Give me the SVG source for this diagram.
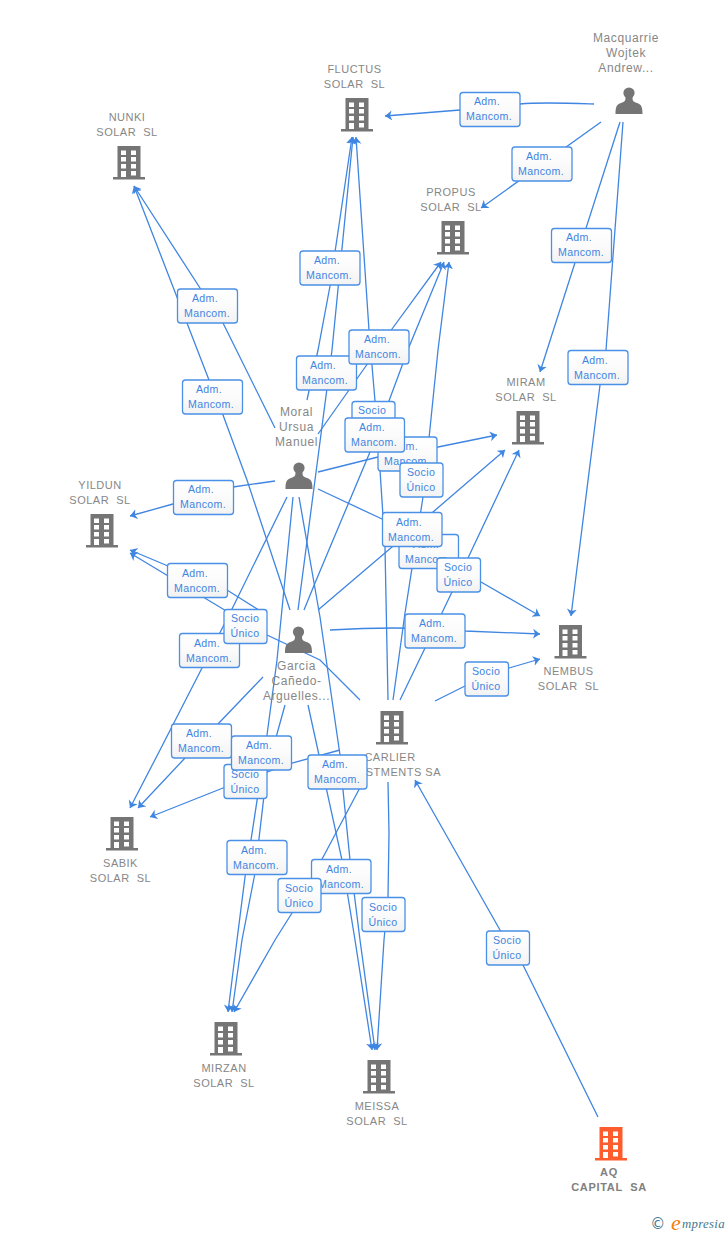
<svg xmlns="http://www.w3.org/2000/svg" xmlns:xlink="http://www.w3.org/1999/xlink" width="728" height="1235" viewBox="0 0 728 1235">
<style>
.e{fill:none;stroke:#3f85e2;stroke-width:1.3;marker-end:url(#a)}
.b{fill:url(#g);stroke:#4a90e6;stroke-width:1.3}
.l{font:10.6px "Liberation Sans",Arial,sans-serif;fill:#3f85e2;text-anchor:middle;letter-spacing:.35px}
.t{font:11px "Liberation Sans",Arial,sans-serif;fill:#878787;text-anchor:middle;letter-spacing:.5px;white-space:pre}
.p{font-size:12px;letter-spacing:.6px}
.s{font-weight:bold;fill:#808080;letter-spacing:.7px}
</style>
<defs>
<linearGradient id="g" x1="0" y1="0" x2="0" y2="1"><stop offset="0" stop-color="#fff"/><stop offset=".5" stop-color="#fbfbfb"/><stop offset="1" stop-color="#f2f2f2"/></linearGradient>
<marker id="a" markerUnits="userSpaceOnUse" markerWidth="10" markerHeight="12" refX="7" refY="5" orient="auto"><path d="M7,5 L0,0 L2,5 L0,10Z" fill="#3f85e2"/></marker>
<g id="bld">
<path fill-rule="evenodd" d="M-11.5,-17H11.5V14H16V16.5H-16V14H-11.5ZM-8,-12.5V-8H-3V-12.5ZM2,-12.5V-8H7V-12.5ZM-8,-6V-1.500H-3V-6ZM2,-6V-1.500H7V-6ZM-8,1V5.500H-3V1ZM2,1V5.500H7V1ZM-8,8V14H-3V8ZM2,8V12.500H7V8Z"/>
</g>
<g id="per">
<circle cx="0" cy="-7" r="5.600"/>
<path d="M-3.500,-3 C-3.500,1 -4,1.500 -8,3 C-12,4.500 -13.500,6 -13.500,14 H13.500 C13.500,6 12,4.500 8,3 C4,1.500 3.500,1 3.500,-3Z"/>
</g>
</defs>
<rect width="728" height="1235" fill="#fff"/>
<g id="connectors">
<path class="e" d="M594,104C565,103 540,102 520,104L460,110L385,116"/>
<path class="e" d="M601,122L481,208"/>
<path class="e" d="M620,122L540,372"/>
<path class="e" d="M623,122L606,350L600,385L571,616"/>
<path class="e" d="M275,428L223,323L200,288L134,186"/>
<path class="e" d="M290,610L247,480L223,415L209,380L134,186"/>
<path class="e" d="M307,400L318,350L330,286L335,252L352,137"/>
<path class="e" d="M298,610L332,350L353,137"/>
<path class="e" d="M388,700L385,547L380,470L375,401L369,330L356,137"/>
<path class="e" d="M318,434L392,329L441,262"/>
<path class="e" d="M304,610L315,583L370,452L409,347L444,262"/>
<path class="e" d="M393,700L405,613L423,497L438,350L449,262"/>
<path class="e" d="M318,472L378,457L438,447L497,435"/>
<path class="e" d="M318,610L392,547L433,512L505,450"/>
<path class="e" d="M400,700L452,592L468,558L519,450"/>
<path class="e" d="M318,489L382,519L481,582L540,616"/>
<path class="e" d="M330,630C380,627 420,627 465,631L540,634"/>
<path class="e" d="M435,701L465,686L509,668L540,659"/>
<path class="e" d="M275,481L233,487L173,504L130,516"/>
<path class="e" d="M262,612L227,590L168,566L130,550"/>
<path class="e" d="M360,700L320,660L267,635L223,609L130,553"/>
<path class="e" d="M287,497L232,609L202,668L160,750L130,808"/>
<path class="e" d="M263,677L218,724L185,758L138,808"/>
<path class="e" d="M340,750L292,763L223,788L150,817"/>
<path class="e" d="M293,497L277,660L267,735L251,840L245,877L237,940L228,1012"/>
<path class="e" d="M285,705L267,770L255,873L242,940L232,1012"/>
<path class="e" d="M363,782L312,878L292,913L275,940L234,1012"/>
<path class="e" d="M299,497L320,617L340,755L343,790L350,860L360,940L375,1050"/>
<path class="e" d="M308,705L342,860L355,940L372,1050"/>
<path class="e" d="M388,782L389,833L388,897L384,940L377,1050"/>
<path class="e" d="M598,1117L523,965L500,930L415,780"/>
</g>
<g id="n1" fill="#757575"><use xlink:href="#bld" href="#bld" x="129" y="163"/><text class="t"><tspan x="127" y="121">NUNKI</tspan><tspan x="127" y="136">SOLAR  SL</tspan></text></g>
<g id="n2" fill="#757575"><use xlink:href="#bld" href="#bld" x="357" y="115"/><text class="t"><tspan x="354.500" y="73">FLUCTUS</tspan><tspan x="354.500" y="88">SOLAR  SL</tspan></text></g>
<g id="n3" fill="#757575"><use xlink:href="#bld" href="#bld" x="453" y="238"/><text class="t"><tspan x="451" y="196">PROPUS</tspan><tspan x="451" y="211">SOLAR  SL</tspan></text></g>
<g id="n4" fill="#757575"><use xlink:href="#bld" href="#bld" x="528" y="428"/><text class="t"><tspan x="526" y="386">MIRAM</tspan><tspan x="526" y="401">SOLAR  SL</tspan></text></g>
<g id="n5" fill="#757575"><use xlink:href="#bld" href="#bld" x="102" y="531"/><text class="t"><tspan x="100" y="489">YILDUN</tspan><tspan x="100" y="504">SOLAR  SL</tspan></text></g>
<g id="n6" fill="#757575"><use xlink:href="#bld" href="#bld" x="570.500" y="642"/><text class="t"><tspan x="568.500" y="675">NEMBUS</tspan><tspan x="568.500" y="690">SOLAR  SL</tspan></text></g>
<g id="n7" fill="#757575"><use xlink:href="#bld" href="#bld" x="122" y="834"/><text class="t"><tspan x="120.500" y="867">SABIK</tspan><tspan x="120.500" y="882">SOLAR  SL</tspan></text></g>
<g id="n8" fill="#757575"><use xlink:href="#bld" href="#bld" x="226" y="1039"/><text class="t"><tspan x="224" y="1072">MIRZAN</tspan><tspan x="224" y="1087">SOLAR  SL</tspan></text></g>
<g id="n9" fill="#757575"><use xlink:href="#bld" href="#bld" x="379" y="1077"/><text class="t"><tspan x="377" y="1110">MEISSA</tspan><tspan x="377" y="1125">SOLAR  SL</tspan></text></g>
<g id="n10" fill="#757575"><use xlink:href="#bld" href="#bld" x="392" y="728"/><text class="t"><tspan x="390" y="761">CARLIER</tspan></text><text class="t" style="text-anchor:end" x="441" y="776">STMENTS SA</text></g>
<g id="n11" fill="#ff5c2e"><use xlink:href="#bld" href="#bld" x="611" y="1144"/><text class="t s"><tspan x="609" y="1176">AQ</tspan><tspan x="609" y="1191">CAPITAL  SA</tspan></text></g>
<g id="n12" fill="#757575"><use xlink:href="#per" href="#per" x="629" y="100"/><text class="t p"><tspan x="626" y="42">Macquarrie</tspan><tspan x="626" y="57">Wojtek</tspan><tspan x="626" y="72">Andrew...</tspan></text></g>
<g id="n13" fill="#757575"><use xlink:href="#per" href="#per" x="299" y="475"/><text class="t p"><tspan x="296.500" y="416">Moral</tspan><tspan x="296.500" y="431">Ursua</tspan><tspan x="296.500" y="446">Manuel</tspan></text></g>
<g id="n14" fill="#757575"><use xlink:href="#per" href="#per" x="298.500" y="639"/><text class="t p"><tspan x="296.500" y="670">Garcia</tspan><tspan x="296.500" y="685">Cañedo-</tspan><tspan x="296.500" y="700">Arguelles...</tspan></text></g>
<g id="labels">
<g><rect class="b" x="460" y="92.500" width="60" height="34" rx="3"/><text class="l"><tspan x="487" y="105">Adm.</tspan><tspan x="489" y="120">Mancom.</tspan></text></g>
<g><rect class="b" x="512" y="147" width="60" height="34" rx="3"/><text class="l"><tspan x="539" y="160">Adm.</tspan><tspan x="541" y="175">Mancom.</tspan></text></g>
<g><rect class="b" x="551.500" y="228.500" width="60" height="34" rx="3"/><text class="l"><tspan x="579" y="241">Adm.</tspan><tspan x="581" y="256">Mancom.</tspan></text></g>
<g><rect class="b" x="568" y="350.500" width="60" height="34" rx="3"/><text class="l"><tspan x="595" y="364">Adm.</tspan><tspan x="597" y="379">Mancom.</tspan></text></g>
<g><rect class="b" x="300" y="251" width="60" height="34" rx="3"/><text class="l"><tspan x="327" y="264">Adm.</tspan><tspan x="329" y="279">Mancom.</tspan></text></g>
<g><rect class="b" x="177.500" y="289" width="60" height="34" rx="3"/><text class="l"><tspan x="205" y="302">Adm.</tspan><tspan x="207" y="317">Mancom.</tspan></text></g>
<g><rect class="b" x="182.500" y="380" width="60" height="34" rx="3"/><text class="l"><tspan x="209" y="393">Adm.</tspan><tspan x="211" y="408">Mancom.</tspan></text></g>
<g><rect class="b" x="296.500" y="356" width="60" height="34" rx="3"/><text class="l"><tspan x="323" y="369">Adm.</tspan><tspan x="325" y="384">Mancom.</tspan></text></g>
<g><rect class="b" x="349" y="330" width="60" height="34" rx="3"/><text class="l"><tspan x="377" y="343">Adm.</tspan><tspan x="378" y="358">Mancom.</tspan></text></g>
<g><rect class="b" x="352" y="401.500" width="43" height="34" rx="3"/><text class="l"><tspan x="372" y="414">Socio</tspan><tspan x="372" y="429">Único</tspan></text></g>
<g><rect class="b" x="378" y="437" width="59" height="34" rx="3"/><text class="l"><tspan x="405" y="450">Adm.</tspan><tspan x="407" y="465">Mancom.</tspan></text></g>
<g><rect class="b" x="345" y="418" width="59.500" height="34" rx="3"/><text class="l"><tspan x="372" y="431">Adm.</tspan><tspan x="374" y="446">Mancom.</tspan></text></g>
<g><rect class="b" x="400" y="463" width="43" height="34" rx="3"/><text class="l"><tspan x="421" y="476">Socio</tspan><tspan x="421" y="491">Único</tspan></text></g>
<g><rect class="b" x="399" y="534.500" width="59.500" height="34" rx="3"/><text class="l"><tspan x="426" y="548">Adm.</tspan><tspan x="428" y="563">Mancom.</tspan></text></g>
<g><rect class="b" x="382.500" y="512.500" width="59.500" height="34" rx="3"/><text class="l"><tspan x="409" y="526">Adm.</tspan><tspan x="411" y="541">Mancom.</tspan></text></g>
<g><rect class="b" x="437" y="558" width="43.500" height="34" rx="3"/><text class="l"><tspan x="458" y="571">Socio</tspan><tspan x="458" y="586">Único</tspan></text></g>
<g><rect class="b" x="405" y="614" width="60" height="34" rx="3"/><text class="l"><tspan x="432" y="627">Adm.</tspan><tspan x="434" y="642">Mancom.</tspan></text></g>
<g><rect class="b" x="465" y="662" width="43.500" height="34" rx="3"/><text class="l"><tspan x="486" y="675">Socio</tspan><tspan x="486" y="690">Único</tspan></text></g>
<g><rect class="b" x="173.500" y="480.500" width="60" height="34" rx="3"/><text class="l"><tspan x="201" y="493">Adm.</tspan><tspan x="203" y="508">Mancom.</tspan></text></g>
<g><rect class="b" x="167.500" y="563.500" width="60" height="34" rx="3"/><text class="l"><tspan x="195" y="577">Adm.</tspan><tspan x="197" y="592">Mancom.</tspan></text></g>
<g><rect class="b" x="179.500" y="633.500" width="60" height="34" rx="3"/><text class="l"><tspan x="207" y="647">Adm.</tspan><tspan x="209" y="662">Mancom.</tspan></text></g>
<g><rect class="b" x="224" y="609.500" width="43" height="34" rx="3"/><text class="l"><tspan x="245" y="622">Socio</tspan><tspan x="245" y="637">Único</tspan></text></g>
<g><rect class="b" x="171.500" y="724" width="60" height="34" rx="3"/><text class="l"><tspan x="199" y="737">Adm.</tspan><tspan x="201" y="752">Mancom.</tspan></text></g>
<g><rect class="b" x="224" y="764.500" width="43" height="34" rx="3"/><text class="l"><tspan x="245" y="778">Socio</tspan><tspan x="245" y="793">Único</tspan></text></g>
<g><rect class="b" x="231.500" y="736" width="60" height="34" rx="3"/><text class="l"><tspan x="259" y="749">Adm.</tspan><tspan x="261" y="764">Mancom.</tspan></text></g>
<g><rect class="b" x="308" y="755" width="59" height="34" rx="3"/><text class="l"><tspan x="335" y="768">Adm.</tspan><tspan x="337" y="783">Mancom.</tspan></text></g>
<g><rect class="b" x="227" y="840.500" width="60" height="34" rx="3"/><text class="l"><tspan x="254" y="854">Adm.</tspan><tspan x="256" y="869">Mancom.</tspan></text></g>
<g><rect class="b" x="311.500" y="859.500" width="59.500" height="34" rx="3"/><text class="l"><tspan x="339" y="873">Adm.</tspan><tspan x="341" y="888">Mancom.</tspan></text></g>
<g><rect class="b" x="278" y="878.500" width="43" height="34" rx="3"/><text class="l"><tspan x="299" y="892">Socio</tspan><tspan x="299" y="907">Único</tspan></text></g>
<g><rect class="b" x="362" y="897.500" width="43" height="34" rx="3"/><text class="l"><tspan x="383" y="911">Socio</tspan><tspan x="383" y="926">Único</tspan></text></g>
<g><rect class="b" x="486.500" y="931" width="43" height="34" rx="3"/><text class="l"><tspan x="507" y="944">Socio</tspan><tspan x="507" y="959">Único</tspan></text></g>
</g>
<g id="logo">
<text x="657.700" y="1229" style="font:15px 'DejaVu Sans',sans-serif;text-anchor:middle;fill:#44788f">©</text>
<text x="671" y="1230" style="font:italic 22px 'Liberation Serif',serif;fill:#f08010">e</text>
<text x="682" y="1228" style="font:italic 12.800px 'Liberation Serif',serif;fill:#44788f;letter-spacing:.3px">mpresia</text>
</g>
</svg>
